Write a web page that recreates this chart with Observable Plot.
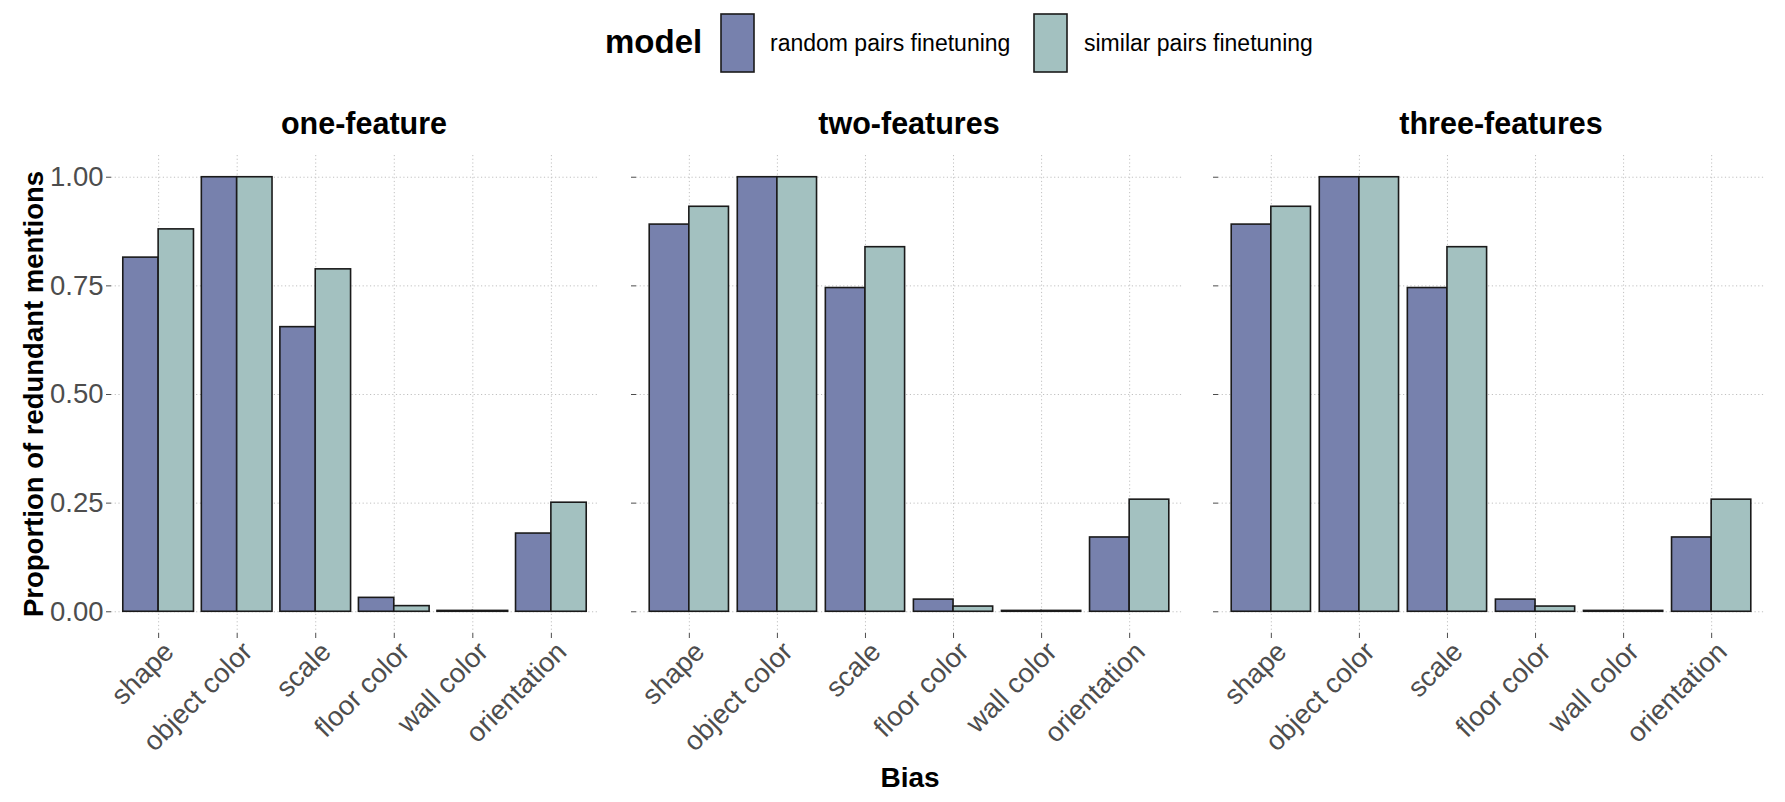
<!DOCTYPE html>
<html><head><meta charset="utf-8">
<script src="https://cdn.jsdelivr.net/npm/d3@7"></script>
<script src="https://cdn.jsdelivr.net/npm/@observablehq/plot@0.6"></script>
<style>
body{margin:0;background:#fff;font-family:"Liberation Sans",Arial,Helvetica,sans-serif;}
#root{position:relative;width:1785px;height:802px;overflow:hidden;background:#fff;}
.panel{position:absolute;top:140px;}
#overlay{position:absolute;left:0;top:0;}
</style></head><body><div id="root"></div>
<script>
const biases = ["shape","object color","scale","floor color","wall color","orientation"];
const models = ["random pairs finetuning","similar pairs finetuning"];
const panels = ["one-feature","two-features","three-features"];
const oneRandom = [0.815,1.000,0.655,0.032,0.002,0.180];
const oneSimilar = [0.880,1.000,0.788,0.013,0.002,0.251];
const twoRandom = [0.891,1.000,0.745,0.028,0.002,0.171];
const twoSimilar = [0.932,1.000,0.839,0.012,0.002,0.258];
const threeRandom = [0.891,1.000,0.745,0.028,0.002,0.171];
const threeSimilar = [0.932,1.000,0.839,0.012,0.002,0.258];
const yTicks = [0,0.25,0.5,0.75,1];
const colors = ["#7781ad","#a3c1c0"];
const xLabel = "Bias";
const yLabel = "Proportion of redundant mentions";
const legendTitle = "model";

const series = [[oneRandom, oneSimilar],[twoRandom, twoSimilar],[threeRandom, threeSimilar]];
const layout = [
  {left:0, width:600, ml:111, mr:2, showY:true, titleX:364},
  {left:600, width:585, ml:36, mr:3, showY:false, titleX:909},
  {left:1185, width:600, ml:33, mr:21, showY:false, titleX:1501}
];
const font = '"Liberation Sans",Arial,Helvetica,sans-serif';
const root = document.getElementById("root");
const grid = {stroke:"#c0c0c0", strokeWidth:1, strokeDasharray:"1.2,2.5"};

panels.forEach((name, p) => {
  const [rand, sim] = series[p];
  const rows = [];
  biases.forEach((b, i) => {
    rows.push({bias:b, i, model:models[0], value:rand[i]});
    rows.push({bias:b, i, model:models[1], value:sim[i]});
  });
  const L = layout[p];
  const idx = d3.range(biases.length);
  const chart = Plot.plot({
    width: L.width, height: 630,
    marginLeft: L.ml, marginRight: L.mr, marginTop: 15, marginBottom: 137,
    style: {fontFamily: font, fontSize: "27.5px", color: "#4d4d4d", background: "transparent", overflow: "visible"},
    x: {type: "linear", domain: [-0.6, biases.length - 0.4], ticks: idx,
        tickFormat: () => "", tickSize: 5, label: null},
    y: {domain: [-0.05, 1.05], ticks: yTicks, tickFormat: L.showY ? d3.format(".2f") : () => "",
        tickSize: 5, tickPadding: 3, label: null},
    color: {domain: models, range: colors},
    marks: [
      Plot.ruleY(yTicks, grid),
      Plot.ruleX(idx, grid),
      Plot.rect(rows, {
        x1: d => d.i + (d.model === models[1] ? 0 : -0.45),
        x2: d => d.i + (d.model === models[1] ? 0.45 : 0),
        y1: 0, y2: "value", fill: "model", stroke: "#1a1a1a", strokeWidth: 1.6
      }),
      Plot.text(idx, {x: d => d, frameAnchor: "bottom", text: i => biases[i], rotate: -45,
        textAnchor: "end", lineAnchor: "top", dx: 3, dy: 6, fontSize: 27.5, fill: "#4d4d4d"})
    ]
  });
  chart.classList.add("panel");
  chart.style.left = L.left + "px";
  root.appendChild(chart);
});

// overlay text: titles, legend, axis labels
const svg = d3.select(root).append("svg").attr("id","overlay")
  .attr("width",1785).attr("height",802).style("font-family", font);
panels.forEach((name, p) => {
  svg.append("text").attr("x", layout[p].titleX).attr("y", 134)
    .attr("text-anchor","middle").attr("font-weight","bold").attr("font-size",30.5).attr("fill","#000").text(name);
});
svg.append("text").attr("x", 910).attr("y", 787).attr("text-anchor","middle")
  .attr("font-weight","bold").attr("font-size",28).attr("fill","#000").text(xLabel);
svg.append("text").attr("transform","translate(43,394) rotate(-90)").attr("text-anchor","middle")
  .attr("font-weight","bold").attr("font-size",27.5).attr("fill","#000").text(yLabel);
// legend
svg.append("text").attr("x",605).attr("y",53).attr("font-weight","bold").attr("font-size",33).attr("fill","#000").text(legendTitle);
const keyX = [721, 1034], labX = [770, 1084];
models.forEach((m, k) => {
  svg.append("rect").attr("x", keyX[k]).attr("y", 14).attr("width", 33).attr("height", 58)
    .attr("fill", colors[k]).attr("stroke","#1a1a1a").attr("stroke-width",1.6);
  svg.append("text").attr("x", labX[k]).attr("y", 51).attr("font-size",23).attr("fill","#000").text(m);
});
</script></body></html>
